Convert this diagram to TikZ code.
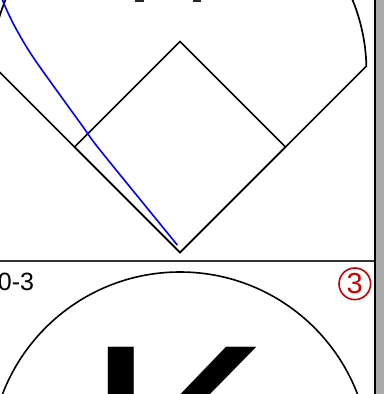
\documentclass[tikz,border=0pt]{standalone}
\usepackage{fontspec}
\setmainfont{Liberation Sans}
\definecolor{scred}{RGB}{204,0,0}
\definecolor{barg}{RGB}{170,170,170}
\begin{document}
\begin{tikzpicture}[x=1pt,y=-1pt,
  field/.style={draw=black,line width=1.7pt,line join=miter},
  hit/.style={draw=blue,line width=1.6pt},
  divider/.style={draw=black!80,line width=1.8pt},
  txt/.style={inner sep=0pt,outer sep=0pt}]
\useasboundingbox (0,0) rectangle (384,394);
\clip (0,0) rectangle (384,394);
% coordinates
\coordinate (H) at (180,252.5);
\coordinate (B3) at (74.5,147);
\coordinate (B2) at (180,41.5);
\coordinate (B1) at (285.5,147);
\coordinate (LF) at (-8.4,64.1);
\coordinate (RF) at (366.4,66.1);
% outfield
\draw[field] (LF) -- (H) -- (RF) arc[start angle=-1.5,end angle=-177.9,radius=187.5];
% diamond
\draw[field] (H) -- (B3) -- (B2) -- (B1) -- cycle;
% hit trajectory
\draw[hit] plot[smooth] coordinates {(0,-6) (6.7,10) (16.7,30) (35,60) (81.7,125) (100,150) (177.3,245)};
% text fragments at top
\fill[black!85] (135,0) rectangle (144,2.2);
\fill[black!85] (193,0) rectangle (201,2.2);
% divider
\draw[divider] (0,260.8) -- (375,260.8);
% right border
\fill[barg] (375.5,0) rectangle (384,394);
\draw[black,line width=1.7pt] (374.8,0) -- (374.8,394);
% lower cell
\node[txt,anchor=base east,font=\fontsize{25}{27}\selectfont] (score) at (34,290.5) {0-3};
\draw[scred,line width=1.6pt] (354.8,283.8) circle[radius=15.8];
\node[txt,text=scred,font=\fontsize{29}{30}\selectfont] (num) at (354.8,283.8) {3};
\draw[black,line width=1.6pt] (180,462) circle[radius=190];
\node[txt,anchor=base west,font=\fontsize{278}{300}\selectfont] (K) at (85.5,538) {K};
\end{tikzpicture}
\end{document}
